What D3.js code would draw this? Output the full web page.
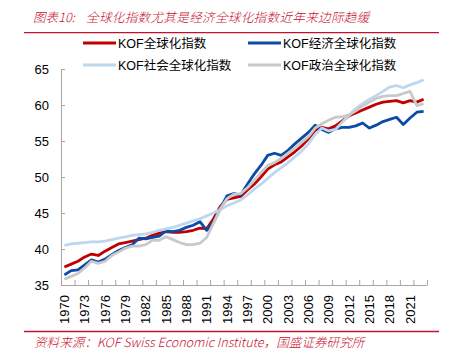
<!DOCTYPE html>
<html><head><meta charset="utf-8">
<script src="https://cdn.jsdelivr.net/npm/d3@7"></script>
<style>
html,body{margin:0;padding:0;background:#fff;}
svg{display:block;}
</style></head>
<body>
<svg id="c" width="458" height="355"></svg>
<script>
const years = d3.range(1970, 2024);
const overall = [37.5,37.9,38.3,38.9,39.3,39.1,39.7,40.2,40.7,40.9,41.1,41.3,41.5,41.9,42.2,42.4,42.3,42.3,42.4,42.6,42.9,42.8,44.2,45.9,46.9,47.1,47.3,48.2,49.0,50.0,51.1,51.7,52.1,52.8,53.5,54.3,55.3,56.5,56.9,56.7,57.1,57.8,58.5,58.9,59.3,59.7,60.1,60.4,60.5,60.6,60.3,60.6,60.4,60.8];
const economic = [36.4,37.0,37.1,37.8,38.5,38.2,38.6,39.2,39.8,40.2,40.6,41.5,41.4,41.6,41.8,42.5,42.4,42.6,43.0,43.3,43.8,42.6,43.7,45.6,47.4,47.7,47.5,49.0,50.4,51.6,53.0,53.3,53.0,53.7,54.6,55.4,56.2,57.2,56.6,56.2,56.7,56.9,56.9,57.1,57.5,56.8,57.2,57.7,58.0,58.3,57.3,58.2,59.0,59.1];
const social = [40.5,40.7,40.8,40.9,41.0,41.0,41.1,41.3,41.5,41.7,41.9,42.0,42.1,42.3,42.6,42.8,43.0,43.3,43.6,43.9,44.2,44.6,45.0,45.5,46.0,46.4,46.8,47.5,48.3,49.0,49.8,50.6,51.3,52.0,52.8,53.6,54.6,55.9,56.8,56.4,56.6,57.6,58.6,59.5,60.2,60.8,61.3,61.9,62.5,62.7,62.4,62.8,63.1,63.5];
const political = [35.8,36.2,36.6,37.4,38.3,38.0,38.3,39.1,39.6,40.1,40.4,40.4,40.6,41.2,41.2,41.7,41.3,40.9,40.6,40.6,40.8,41.6,43.6,45.6,47.0,47.6,47.7,48.5,49.5,50.6,51.6,52.0,52.6,53.3,54.0,54.8,55.6,56.8,57.4,57.9,58.3,58.4,58.6,59.2,59.9,60.4,60.9,61.2,61.3,61.3,61.6,61.9,59.9,60.2];
const seriesNames = ["KOF全球化指数","KOF经济全球化指数","KOF社会全球化指数","KOF政治全球化指数"];
const seriesColors = ["#c00000","#0b4aa6","#bdd7ee","#c9c9c9"];
const yTicks = [35,40,45,50,55,60,65];
const labelYears = years.filter(y => (y - 1970) % 3 === 0);
const titleLabel = "图表10:";
const titleText = "全球化指数尤其是经济全球化指数近年来边际趋缓";
const sourceText = "资料来源：KOF Swiss Economic Institute，国盛证券研究所";

const svg = d3.select("#c");
const L = 61, R = 427, T = 69, B = 285;
const x = d3.scaleBand().domain(years).range([L, R]).padding(0);
const xi = d3.scaleLinear().domain([0, years.length]).range([L, R]);
const y = d3.scaleLinear().domain([35, 65]).range([B, T]);
const red = "#c8102e";
const cjk = "'Noto Sans CJK SC', sans-serif";

// title
svg.append("text").attr("x", 33).attr("y", 22)
  .attr("font-family", cjk).attr("font-size", 12.6).attr("font-weight", 300)
  .attr("font-style", "italic").attr("fill", red).text(titleLabel);
svg.append("text").attr("x", 86).attr("y", 22)
  .attr("font-family", cjk).attr("font-size", 12.6).attr("font-weight", 300).attr("letter-spacing", 0.3)
  .attr("font-style", "italic").attr("fill", red).text(titleText);
svg.append("line").attr("x1", 24).attr("x2", 439).attr("y1", 32.7).attr("y2", 32.7)
  .attr("stroke", red).attr("stroke-width", 1.3);
svg.append("line").attr("x1", 24).attr("x2", 439).attr("y1", 331.5).attr("y2", 331.5)
  .attr("stroke", red).attr("stroke-width", 1.3);
svg.append("text").attr("x", 34).attr("y", 347)
  .attr("font-family", cjk).attr("font-size", 12.6).attr("font-weight", 300)
  .attr("font-style", "italic").attr("fill", red).text(sourceText);

// axes
const yAxis = d3.axisLeft(y).tickValues(yTicks).tickSizeInner(-4).tickSizeOuter(0).tickPadding(12);
const gy = svg.append("g").attr("transform", `translate(${L},0)`).call(yAxis);
gy.selectAll("path,line").attr("stroke", "#a6a6a6");
gy.selectAll("text").attr("font-family", "'Liberation Sans', Arial, sans-serif").attr("font-size", 13).attr("fill", "#000");

const xTickAxis = d3.axisBottom(xi).tickValues(d3.range(0, years.length + 1, 2)).tickSizeInner(-5).tickSizeOuter(0).tickFormat("");
const gx = svg.append("g").attr("transform", `translate(0,${B})`).call(xTickAxis);
gx.selectAll("path,line").attr("stroke", "#a6a6a6");

const xLabAxis = d3.axisBottom(x).tickValues(labelYears).tickSize(0).tickPadding(0);
const gxl = svg.append("g").attr("transform", `translate(0,${B})`).call(xLabAxis);
gxl.select(".domain").remove();
gxl.selectAll("text").attr("font-family", "'Liberation Sans', Arial, sans-serif").attr("font-size", 13).attr("fill", "#000")
  .attr("transform", "rotate(-90)").attr("text-anchor", "end").attr("x", -10).attr("y", 0).attr("dy", "0.35em");

// lines
const data = [overall, economic, social, political];
const line = d3.line().x((d, i) => x(years[i]) + x.bandwidth() / 2).y(d => y(d)).curve(d3.curveLinear);
data.forEach((s, k) => {
  svg.append("path").datum(s).attr("d", line).attr("fill", "none")
    .attr("stroke", seriesColors[k]).attr("stroke-width", 2.8).attr("stroke-linejoin", "round");
});

// legend
const legPos = [[83, 43], [248, 43], [83, 65], [248, 65]];
seriesNames.forEach((n, k) => {
  const [lx, ly] = legPos[k];
  svg.append("line").attr("x1", lx).attr("x2", lx + 33).attr("y1", ly).attr("y2", ly)
    .attr("stroke", seriesColors[k]).attr("stroke-width", 2.8);
  svg.append("text").attr("x", lx + 35).attr("y", ly).attr("dy", "0.36em")
    .attr("font-family", "'Liberation Sans', 'Noto Sans CJK SC', sans-serif").attr("font-size", 12.5)
    .attr("fill", "#000").text(n);
});
</script>
</body></html>
